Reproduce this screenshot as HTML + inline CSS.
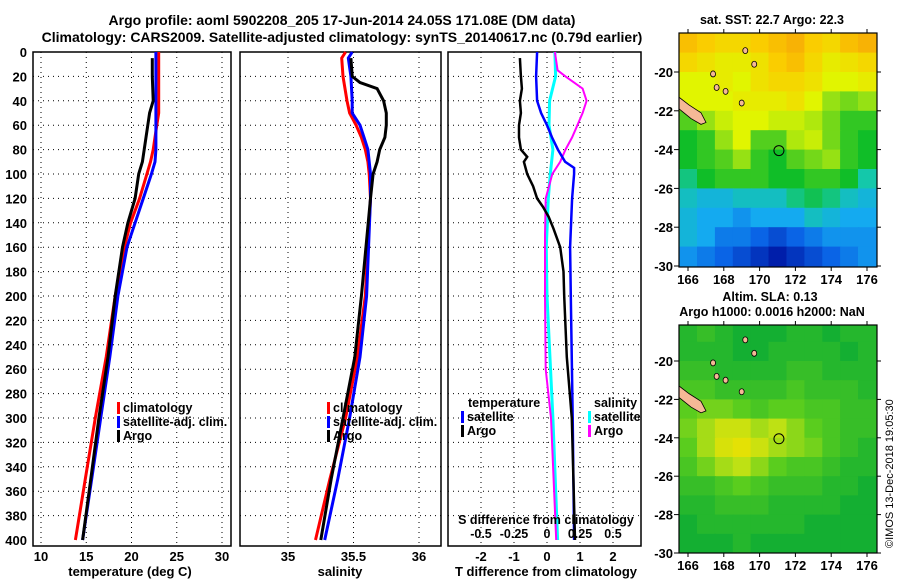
<!DOCTYPE html>
<html><head><meta charset="utf-8">
<style>
body{margin:0;background:#fff;}
svg{display:block;font-family:"Liberation Sans",Arial,sans-serif;font-weight:bold;}
</style></head>
<body>
<svg id="fig" width="900" height="580" viewBox="0 0 900 580" xmlns="http://www.w3.org/2000/svg">
<rect width="900" height="580" fill="#fff"/>
<text x="342" y="25" font-size="14" text-anchor="middle">Argo profile: aoml 5902208_205 17-Jun-2014 24.05S 171.08E (DM data)</text>
<text x="342" y="42" font-size="14" text-anchor="middle">Climatology: CARS2009. Satellite-adjusted climatology: synTS_20140617.nc (0.79d earlier)</text>
<g id="g"></g>
<text transform="translate(893,548) rotate(-90)" font-size="11" font-weight="normal">©IMOS 13-Dec-2018 19:05:30</text>
</svg>
<script>
// ---- profile data ----
const tDepth=[0,10,20,30,40,50,60,70,80,90,100,120,140,160,200,250,300,350,400];
const tClim=[23.0,23.0,23.0,23.0,23.0,23.0,22.8,22.6,22.4,22.1,21.7,20.9,19.9,19.2,18.2,17.2,16.0,14.9,13.8];
const tSat=[22.7,22.7,22.7,22.7,22.7,22.7,22.7,22.7,22.7,22.6,22.2,21.3,20.4,19.5,18.5,17.6,16.6,15.6,14.6];
const argoTDepth=[5,20,40,50,60,70,80,90,100,120,140,160,200,250,300,350,400];
const argoT=[22.3,22.3,22.4,22.0,21.8,21.6,21.4,21.2,20.8,20.4,19.6,19.0,18.2,17.4,16.4,15.5,14.6];
const sDepth=[0,5,20,40,50,60,70,80,90,100,120,200,250,300,350,400];
const sClim=[35.44,35.41,35.42,35.45,35.47,35.52,35.56,35.59,35.61,35.62,35.63,35.59,35.53,35.44,35.32,35.21];
const sSat=[35.49,35.46,35.48,35.49,35.49,35.55,35.58,35.61,35.62,35.63,35.63,35.60,35.55,35.47,35.38,35.28];
const argoSDepth=[5,20,25,30,40,50,60,70,80,90,100,120,200,250,300,350,400];
const argoS=[35.48,35.49,35.55,35.68,35.73,35.75,35.75,35.74,35.70,35.68,35.65,35.63,35.56,35.51,35.42,35.33,35.25];
const dtArgoDepth=[5,20,30,40,50,60,70,80,86,90,100,110,120,127,135,145,160,180,200,250,300,400];
const dtArgo=[-0.82,-0.79,-0.76,-0.82,-0.79,-0.85,-0.85,-0.79,-0.6,-0.7,-0.6,-0.42,-0.3,-0.12,0.05,0.2,0.4,0.5,0.52,0.6,0.75,0.85];
const dtSatDepth=[0,20,40,50,60,70,80,90,95,100,120,160,200,300,400];
const dtSat=[-0.3,-0.33,-0.3,-0.18,0,0.15,0.33,0.55,0.82,0.82,0.76,0.7,0.72,0.78,0.82];
const dsDepth=[0,15,20,30,40,50,60,70,80,90,100,110,120,150,200,260,300,400];
const dsArgo=[0.06,0.08,0.14,0.27,0.30,0.27,0.23,0.19,0.14,0.10,0.04,0.015,-0.01,-0.015,-0.015,-0.01,0.03,0.07];
const dsSatDepth=[0,20,40,60,80,100,120,160,200,300,400];
const dsSat=[0.06,0.065,0.02,0.015,0.045,0.025,0.01,-0.005,0,0.045,0.08];
// ---- map data (rows top->bottom, 1 deg lat; cols 1 deg lon from 165.5) ----
const sstGrid=[
[23.4,23.3,23.2,23.2,23.3,23.4,23.5,23.3,23.2,23.4,23.5],
[23.2,23.1,23.0,23.0,23.1,23.3,23.4,23.2,23.0,23.1,23.2],
[22.9,22.9,23.0,22.9,23.1,23.2,23.2,23.1,22.9,22.9,23.0],
[22.9,22.9,22.9,23.0,23.0,23.0,23.1,22.9,22.6,22.5,22.6],
[22.4,22.6,22.8,22.9,22.9,22.8,22.8,22.7,22.5,22.3,22.3],
[22.2,22.3,22.6,22.9,22.4,22.4,22.7,22.8,22.5,22.3,22.2],
[22.2,22.3,22.4,22.6,22.3,22.2,22.4,22.5,22.6,22.3,22.2],
[22.0,22.2,22.3,22.3,22.3,22.2,22.2,22.3,22.3,22.2,21.9],
[21.8,21.7,21.7,21.8,21.8,21.8,22.0,22.1,22.0,21.8,21.7],
[21.7,21.6,21.6,21.5,21.6,21.6,21.6,21.8,21.7,21.6,21.6],
[21.7,21.6,21.4,21.4,21.3,21.2,21.3,21.4,21.5,21.5,21.5],
[21.5,21.4,21.3,21.2,21.1,21.0,21.1,21.2,21.3,21.4,21.5]];
const slaGrid=[
[.09,.10,.09,.08,.08,.08,.09,.09,.08,.09,.09],
[.09,.09,.09,.08,.08,.09,.09,.09,.09,.08,.09],
[.10,.10,.09,.09,.09,.09,.10,.10,.09,.09,.09],
[.11,.11,.10,.10,.10,.10,.11,.10,.10,.10,.09],
[.12,.13,.13,.12,.11,.12,.12,.11,.11,.10,.10],
[.13,.15,.17,.17,.15,.16,.14,.12,.11,.10,.10],
[.12,.15,.18,.19,.17,.15,.14,.13,.11,.10,.09],
[.11,.13,.15,.16,.14,.12,.11,.11,.10,.09,.09],
[.10,.10,.11,.12,.11,.10,.10,.10,.09,.09,.08],
[.09,.09,.10,.10,.10,.09,.09,.09,.09,.08,.08],
[.08,.09,.09,.09,.09,.09,.09,.08,.08,.08,.08],
[.08,.08,.08,.09,.08,.08,.08,.08,.08,.08,.08]];
const lonTicks=[166,168,170,172,174,176];
const latTicks=[-20,-22,-24,-26,-28,-30];
const depthTicks=[0,20,40,60,80,100,120,140,160,180,200,220,240,260,280,300,320,340,360,380,400];

const NS="http://www.w3.org/2000/svg";
const G=document.getElementById('g');
function el(tag,attrs,parent){const e=document.createElementNS(NS,tag);for(const k in attrs)e.setAttribute(k,attrs[k]);(parent||G).appendChild(e);return e;}
function txt(x,y,s,size,anchor,fill){const t=el('text',{x:x,y:y,'font-size':size,'text-anchor':anchor||'middle',fill:fill||'#000'});t.textContent=s;return t;}

const TOP=52, BOT=546;
const yD=d=>TOP+d*1.22;

function panel(name,x0,x1,gridX){
  const g=el('g',{});
  
  
  gridX.forEach(x=>el('line',{x1:x,x2:x,y1:TOP,y2:BOT,stroke:'#000','stroke-width':1,'stroke-dasharray':'1,4'},g));
  depthTicks.forEach(d=>{if(d>0&&d<400)el('line',{x1:x0,x2:x1,y1:yD(d),y2:yD(d),stroke:'#000','stroke-width':1,'stroke-dasharray':'1,4'},g);});
  el('rect',{x:x0,y:TOP,width:x1-x0,height:BOT-TOP,fill:'none',stroke:'#000','stroke-width':1.5},g);
  return g;
}
function line(g,xs,ds,fx,color,w,name){
  const p=xs.map((v,i)=>fx(v).toFixed(1)+','+yD(ds[i]).toFixed(1)).join(' ');
  const l=el('polyline',{points:p,fill:'none',stroke:color,'stroke-width':w||2.5},g);
  
  
}
depthTicks.forEach(d=>{txt(27,yD(d)+5,String(d),13,'end');});

// Panel 1 temperature
const xT=v=>41+(v-10)*9.05;
const p1=panel('temperature-panel',33,231,[10,15,20,25,30].map(xT));
line(p1,tClim,tDepth,xT,'#f00',3,'temp-climatology-line');
line(p1,tSat,tDepth,xT,'#00f',3,'temp-satellite-line');
line(p1,argoT,argoTDepth,xT,'#000',3,'temp-argo-line');
[10,15,20,25,30].forEach(v=>txt(xT(v),561,String(v),13));
txt(130,576,'temperature (deg C)',13);

// Panel 2 salinity
const xS=v=>288+(v-35)*131;
const p2=panel('salinity-panel',240,441,[35,35.5,36].map(xS));
line(p2,sClim,sDepth,xS,'#f00',3,'sal-climatology-line');
line(p2,sSat,sDepth,xS,'#00f',3,'sal-satellite-line');
line(p2,argoS,argoSDepth,xS,'#000',3,'sal-argo-line');
[35,35.5,36].forEach(v=>txt(xS(v),561,String(v),13));
txt(340,576,'salinity',13);

function legend(x,y,items,name){
  const g=el('g',{});
  
  
  items.forEach((it,i)=>{
    if(it[1])el('rect',{x:x,y:y+i*14-10,width:3,height:12,fill:it[1]},g);
    const t=el('text',{x:x+(it[1]?6:0),y:y+i*14,'font-size':12.5},g);t.textContent=it[0];
  });
}
legend(117,412,[['climatology','#f00'],['satellite-adj. clim.','#00f'],['Argo','#000']],'temp-legend');
legend(327,412,[['climatology','#f00'],['satellite-adj. clim.','#00f'],['Argo','#000']],'sal-legend');

// Panel 3 differences
const xDT=v=>547+v*33;
const xDS=v=>547+v*132;
const p3=panel('difference-panel',448,641,[-2,-1,0,1,2].map(xDT));
line(p3,dsSat,dsSatDepth,xDS,'#0ff',3,'sal-diff-satellite-line');
line(p3,dsArgo,dsDepth,xDS,'#f0f',2,'sal-diff-argo-line');
line(p3,dtSat,dtSatDepth,xDT,'#00f',2.5,'temp-diff-satellite-line');
line(p3,dtArgo,dtArgoDepth,xDT,'#000',2.5,'temp-diff-argo-line');
legend(468,407,[['temperature',null]],'diff-temp-legend-title');
legend(461,421,[['satellite','#00f'],['Argo','#000']],'diff-temp-legend');
legend(594,407,[['salinity',null]],'diff-sal-legend-title');
legend(588,421,[['satellite','#0ff'],['Argo','#f0f']],'diff-sal-legend');
txt(546,524,'S difference from climatology',12.5);
const sTickLabels=['-0.5','-0.25','0','0.25','0.5'];
[-0.5,-0.25,0,0.25,0.5].forEach((v,i)=>txt(xDS(v),538,sTickLabels[i],12.5));
[-2,-1,0,1,2].forEach(v=>txt(xDT(v),561,String(v),13));
txt(546,576,'T difference from climatology',13);

// Maps
function sstColor(v){
  const stops=[[21.0,[0,30,170]],[21.3,[10,100,230]],[21.6,[20,170,240]],[21.9,[20,200,170]],[22.2,[16,190,40]],[22.6,[150,225,20]],[22.9,[225,245,0]],[23.3,[250,205,0]],[23.7,[245,150,10]]];
  return interp(stops,v);
}
function slaColor(v){
  const stops=[[0.08,[20,175,50]],[0.12,[90,205,30]],[0.16,[190,225,20]],[0.2,[240,225,0]],[0.23,[240,180,0]]];
  return interp(stops,v);
}
function interp(stops,v){
  if(v<=stops[0][0])return 'rgb('+stops[0][1]+')';
  for(let i=1;i<stops.length;i++){if(v<=stops[i][0]){const a=stops[i-1],b=stops[i],f=(v-a[0])/(b[0]-a[0]);return 'rgb('+a[1].map((c,j)=>Math.round(c+(b[1][j]-c)*f)).join(',')+')';}}
  return 'rgb('+stops[stops.length-1][1]+')';
}
function map(name,grid,colorFn,top,bottom,lat20y,pxPerLat){
  const g=el('g',{});
  
  
  const L=679,R=877;
  const xLon=lon=>688+(lon-166)*17.9;
  const yLat=lat=>lat20y+(-20-lat)*pxPerLat;
  const clip='clip-'+name;
  const cp=el('clipPath',{id:clip},g);el('rect',{x:L,y:top,width:R-L,height:bottom-top},cp);
  const cg=el('g',{'clip-path':'url(#'+clip+')'},g);
  grid.forEach((row,r)=>row.forEach((v,c)=>{
    const x=xLon(165.5+c), y=yLat(-18-r);
    const cell=el('rect',{x:x.toFixed(1),y:y.toFixed(1),width:19,height:(pxPerLat+1).toFixed(1),fill:colorFn(v)},cg);
    
    
  }));
  el('polygon',{points:[[L,yLat(-21.3)],[L+10,yLat(-21.7)],[L+22,yLat(-22.1)],[L+27,yLat(-22.6)],[L+22,yLat(-22.7)],[L+12,yLat(-22.4)],[L,yLat(-21.9)]].map(p=>p.join(',')).join(' '),fill:'#f5b896',stroke:'#000','stroke-width':0.8},cg);
  [[169.2,-18.9],[169.7,-19.6],[167.6,-20.8],[168.1,-21.0],[169.0,-21.6],[167.4,-20.1]].forEach(p=>el('ellipse',{cx:xLon(p[0]),cy:yLat(p[1]),rx:2.5,ry:3,fill:'#f5b896',stroke:'#000','stroke-width':0.8},cg));
  el('circle',{cx:xLon(171.08),cy:yLat(-24.05),r:5,fill:'none',stroke:'#000','stroke-width':1},cg);
  el('rect',{x:L,y:top,width:R-L,height:bottom-top,fill:'none',stroke:'#000','stroke-width':1.2},g);
  lonTicks.forEach(lon=>{const x=xLon(lon);el('line',{x1:x,x2:x,y1:top,y2:top-4,stroke:'#000'},g);el('line',{x1:x,x2:x,y1:bottom,y2:bottom+4,stroke:'#000'},g);const t=el('text',{x:x,y:bottom+17,'font-size':13,'text-anchor':'middle'},g);t.textContent=lon;});
  latTicks.forEach(lat=>{const y=yLat(lat);el('line',{x1:L,x2:L-5,y1:y,y2:y,stroke:'#000'},g);el('line',{x1:R,x2:R+4,y1:y,y2:y,stroke:'#000'},g);const t=el('text',{x:L-6,y:y+5,'font-size':13,'text-anchor':'end'},g);t.textContent=lat;});
}
map('sst-map',sstGrid,sstColor,33,267,72,19.4);
txt(772,24,'sat. SST: 22.7 Argo: 22.3',12.5);
map('sla-map',slaGrid,slaColor,325,553,361,19.2);
txt(770,301,'Altim. SLA: 0.13',12.5);
txt(772,316,'Argo h1000: 0.0016 h2000: NaN',12.5);
</script>
</body></html>
